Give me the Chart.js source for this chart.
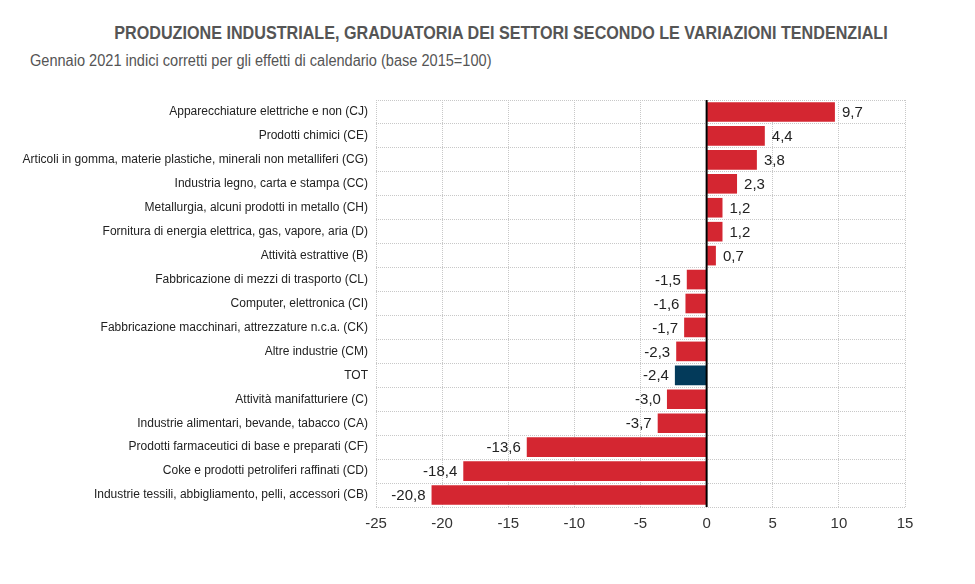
<!DOCTYPE html>
<html>
<head>
<meta charset="utf-8">
<script src="https://cdn.jsdelivr.net/npm/chart.js@4.4.1/dist/chart.umd.min.js"></script>
<style>
  body { margin: 0; background: #fff; }
  #wrap { position: relative; width: 975px; height: 584px; }
  #titolo { position: absolute; left: 501px; top: 22px; white-space: nowrap;
    transform: translateX(-50%) scaleX(0.85);
    font: bold 19px "Liberation Sans", Arial, sans-serif; color: #555; }
  #sottotitolo { position: absolute; left: 30px; top: 52px; white-space: nowrap;
    transform-origin: 0 0; transform: scaleX(0.91);
    font: 16px "Liberation Sans", Arial, sans-serif; color: #555; }
  canvas { position: absolute; left: 0; top: 0; }
</style>
</head>
<body>
<div id="wrap">
  <div id="titolo">PRODUZIONE INDUSTRIALE, GRADUATORIA DEI SETTORI SECONDO LE VARIAZIONI TENDENZIALI</div>
  <div id="sottotitolo">Gennaio 2021 indici corretti per gli effetti di calendario (base 2015=100)</div>
  <canvas id="myChart" width="975" height="584"></canvas>
</div>
<script>
// settori (dall'alto verso il basso)
const settori = [
  'Apparecchiature elettriche e non (CJ)',
  'Prodotti chimici (CE)',
  'Articoli in gomma, materie plastiche, minerali non metalliferi (CG)',
  'Industria legno, carta e stampa (CC)',
  'Metallurgia, alcuni prodotti in metallo (CH)',
  'Fornitura di energia elettrica, gas, vapore, aria (D)',
  'Attività estrattive (B)',
  'Fabbricazione di mezzi di trasporto (CL)',
  'Computer, elettronica (CI)',
  'Fabbricazione macchinari, attrezzature n.c.a. (CK)',
  'Altre industrie (CM)',
  'TOT',
  'Attività manifatturiere (C)',
  'Industrie alimentari, bevande, tabacco (CA)',
  'Prodotti farmaceutici di base e preparati (CF)',
  'Coke e prodotti petroliferi raffinati (CD)',
  'Industrie tessili, abbigliamento, pelli, accessori (CB)'
];

// variazioni tendenziali %
const variazioni = [9.7, 4.4, 3.8, 2.3, 1.2, 1.2, 0.7, -1.5, -1.6, -1.7, -2.3, -2.4, -3.0, -3.7, -13.6, -18.4, -20.8];

// tick asse x
const tickX = [-25, -20, -15, -10, -5, 0, 5, 10, 15];

const FONT = '"Liberation Sans", Arial, sans-serif';
const ROSSO = '#d42631';
const BLU = '#033a5a';

// etichette dei valori + linea dello zero
const etichette = {
  id: 'etichette',
  afterDatasetsDraw(chart) {
    const ctx = chart.ctx;
    const area = chart.chartArea;
    const x0 = chart.scales.x.getPixelForValue(0);
    ctx.save();
    ctx.strokeStyle = '#000';
    ctx.lineWidth = 2;
    ctx.beginPath();
    ctx.moveTo(x0, area.top);
    ctx.lineTo(x0, area.bottom);
    ctx.stroke();

    ctx.font = '15px ' + FONT;
    ctx.fillStyle = '#222';
    ctx.textBaseline = 'middle';
    chart.getDatasetMeta(0).data.forEach((bar, i) => {
      const v = variazioni[i];
      const testo = v.toFixed(1).replace('.', ',');
      if (v >= 0) {
        ctx.textAlign = 'left';
        ctx.fillText(testo, bar.x + 7, bar.y + 1);
      } else {
        ctx.textAlign = 'right';
        ctx.fillText(testo, bar.x - 6, bar.y + 1);
      }
    });
    ctx.restore();
  }
};

const ctx = document.getElementById('myChart').getContext('2d');
const myChart = new Chart(ctx, {
  type: 'bar',
  data: {
    labels: settori,
    datasets: [{
      data: variazioni,
      backgroundColor: settori.map(s => s === 'TOT' ? BLU : ROSSO),
      categoryPercentage: 1,
      barPercentage: 0.82
    }]
  },
  options: {
    indexAxis: 'y',
    responsive: false,
    animation: false,
    layout: { padding: { left: 0, right: 70, top: 100, bottom: 42 } },
    plugins: {
      legend: { display: false },
      tooltip: { enabled: false }
    },
    scales: {
      x: {
        min: -25,
        max: 15,
        afterBuildTicks: scale => { scale.ticks = tickX.map(v => ({ value: v })); },
        grid: { color: '#c8c8c8', drawTicks: false },
        border: { display: false, dash: [1, 1] },
        ticks: { color: '#333', padding: 8, font: { family: FONT, size: 15 } },
        afterFit: scale => { scale.height = 35; }
      },
      y: {
        grid: { color: '#c8c8c8', drawTicks: false },
        border: { display: false, dash: [1, 1] },
        ticks: { color: '#222', padding: 8, font: { family: FONT, size: 12 }, autoSkip: false },
        afterFit: scale => { scale.width = 376; }
      }
    }
  },
  plugins: [etichette]
});
</script>
</body>
</html>
